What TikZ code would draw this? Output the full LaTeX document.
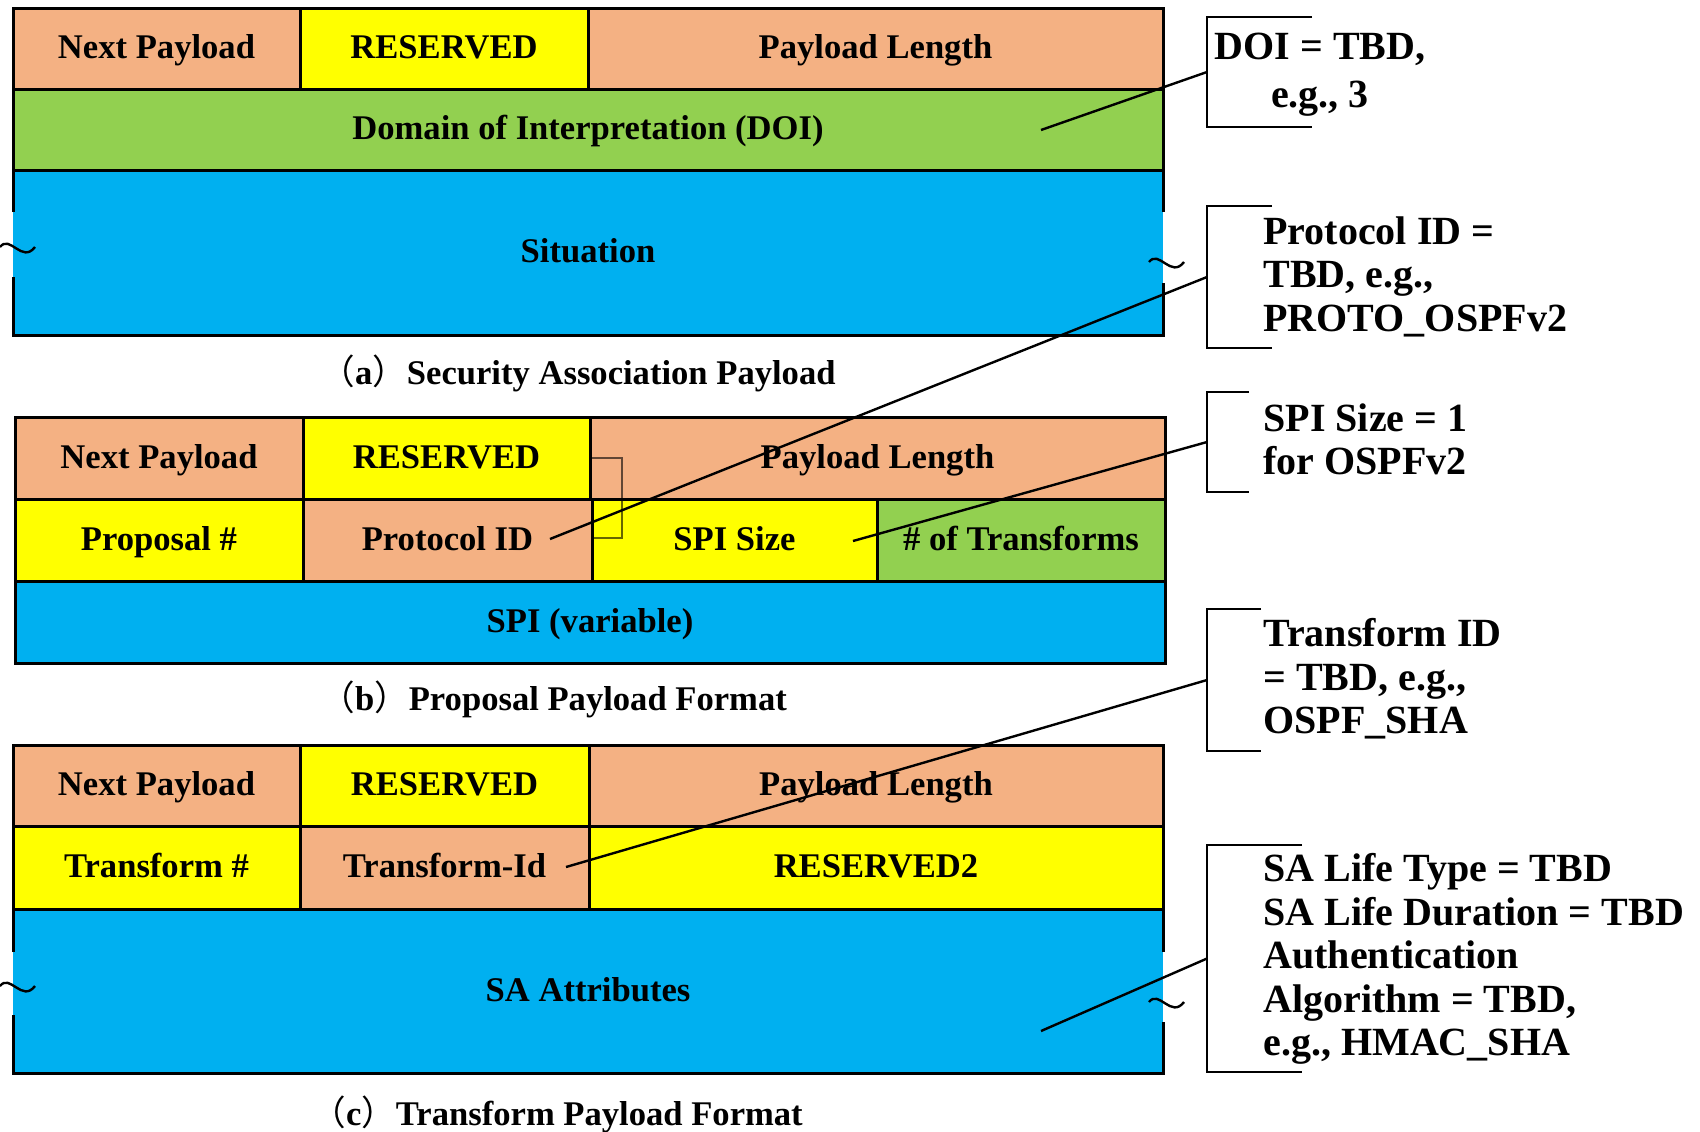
\documentclass[tikz,border=0pt]{standalone}
\usepackage{fontspec}
\setmainfont{Liberation Serif}
\newfontfamily\cjk{Noto Sans CJK SC}
\usetikzlibrary{calc}
\definecolor{orng}{RGB}{244,177,131}
\definecolor{ylw}{RGB}{255,255,0}
\definecolor{grn}{RGB}{146,208,80}
\definecolor{blu}{RGB}{0,176,240}
\tikzset{
  cell/.style={draw=black, line width=1.5pt},
  lbl/.style={font=\bfseries\fontsize{17.3}{20}\selectfont, inner sep=0pt, text height=11.5pt, text depth=1.5pt},
  note/.style={font=\bfseries\fontsize{20}{21.75}\selectfont, inner sep=0pt, align=left, anchor=north west},
  capt/.style={font=\bfseries\fontsize{17.3}{20}\selectfont, inner sep=0pt, anchor=base west},
  brk/.style={line width=1.4pt},
  lead/.style={line width=1.2pt},
  wave/.style={line width=1.2pt}
}
\newcommand{\wavy}[2]{\draw[wave] (#1-17,#2) .. controls (#1-7,#2-13) and (#1+5,#2+17) .. (#1+18,#2);}

\begin{document}
\begin{tikzpicture}[line join=miter, x=0.5pt, y=-0.5pt]
\useasboundingbox (0,0) rectangle (1700,1131);
% fields of the three payloads
\foreach \nm/\xa/\ya/\xb/\yb/\col/\txt in {
  aNext/13/8/300/89/orng/Next Payload,
  aRes/300/8/588/89/ylw/RESERVED,
  aLen/588/8/1163/89/orng/Payload Length,
  aDoi/13/89/1163/170/grn/{Domain of Interpretation (DOI)},
  bNext/15/417/303/499/orng/Next Payload,
  bRes/303/417/590/499/ylw/RESERVED,
  bLen/590/417/1165/499/orng/Payload Length,
  bProp/15/499/303/581/ylw/Proposal \#,
  bProt/303/499/592/581/orng/Protocol ID,
  bSpis/592/499/877/581/ylw/SPI Size,
  bTrans/877/499/1165/581/grn/\# of Transforms,
  bSpi/15/581/1165/663/blu/{SPI (variable)},
  cNext/13/745/300/826/orng/Next Payload,
  cRes/300/745/589/826/ylw/RESERVED,
  cLen/589/745/1163/826/orng/Payload Length,
  cTnum/13/826/300/909/ylw/Transform \#,
  cTid/300/826/589/909/orng/Transform-Id,
  cRes2/589/826/1163/909/ylw/RESERVED2}
{
  \draw[cell, fill=\col] (\xa,\ya) rectangle (\xb,\yb);
  \node[lbl] (\nm) at ({(\xa+\xb)/2},{(\ya+\yb)/2}) {\txt};
}
% variable length parts, broken sides
\fill[blu] (13,170) rectangle (1163,335);
\draw[cell] (13,212) -- (13,170) -- (1163,170) -- (1163,212);
\draw[cell] (13,277) -- (13,335) -- (1163,335) -- (1163,283);
\node[lbl] (aSit) at (588,252) {Situation};
\fill[blu] (13,909) rectangle (1163,1073);
\draw[cell] (13,952) -- (13,909) -- (1163,909) -- (1163,952);
\draw[cell] (13,1015) -- (13,1073) -- (1163,1073) -- (1163,1022);
\node[lbl] (cAttr) at (588,991) {SA Attributes};
\wavy{17}{247}
\wavy{1166}{262}
\wavy{17}{986}
\wavy{1166}{1002}
\draw[line width=1pt, opacity=0.6] (590,458) -- (622,458) -- (622,538) -- (592,538);
% captions
\node[capt] (capA) at (320,384) {{\cjk\mdseries （}a{\cjk\mdseries ）}Security Association Payload};
\node[capt] (capB) at (320,710) {{\cjk\mdseries （}b{\cjk\mdseries ）}Proposal Payload Format};
\node[capt] (capC) at (311,1125) {{\cjk\mdseries （}c{\cjk\mdseries ）}Transform Payload Format};
% notes
\foreach \nm/\ya/\yb/\xr in {doi/17/127/1312, prot/206/348/1272, spi/392/492/1249, tr/609/751/1261, sa/845/1072/1302}
{
  \draw[brk] (\xr,\ya) -- (1207,\ya) -- (1207,\yb) -- (\xr,\yb);
  \coordinate (\nm B) at (1207,{(\ya+\yb)/2});
}
\node[note, align=center, anchor=north] (doiT) at (1320,33) {DOI = TBD,\\[2.25pt]e.g., 3};
\node[note] (protT) at (1263,216) {Protocol ID =\\TBD, e.g.,\\PROTO\_OSPFv2};
\node[note] (spiT) at (1263,403) {SPI Size = 1\\for OSPFv2};
\node[note] (trT) at (1263,618) {Transform ID\\= TBD, e.g.,\\OSPF\_SHA};
\node[note] (saT) at (1263,853) {SA Life Type = TBD\\SA Life Duration = TBD\\Authentication\\Algorithm = TBD,\\e.g., HMAC\_SHA};
\coordinate (doiP) at (1041,130);
\coordinate (protP) at (550,539);
\coordinate (spiP) at (853,541);
\coordinate (trP) at (566,867);
\coordinate (saP) at (1041,1031);
\foreach \p in {doi,prot,spi,tr,sa}
  \draw[lead] (\p P) -- (\p B);
\end{tikzpicture}
\end{document}
